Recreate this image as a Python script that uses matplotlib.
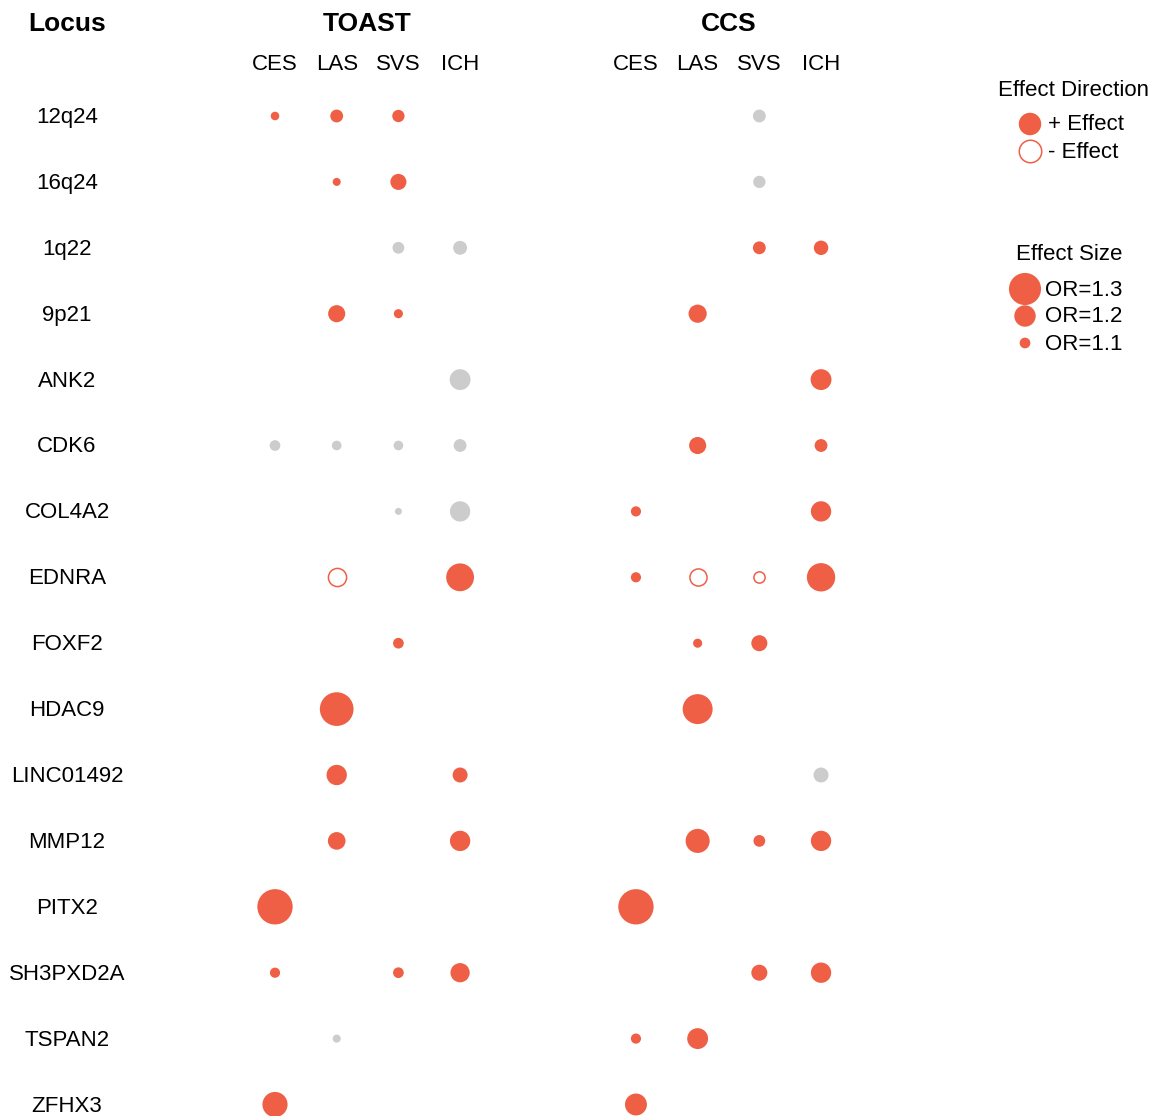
import numpy as np
import matplotlib.pyplot as plt

# --- DATA ---
loci = ["12q24", "16q24", "1q22", "9p21", "ANK2", "CDK6", "COL4A2", "EDNRA",
        "FOXF2", "HDAC9", "LINC01492", "MMP12", "PITX2", "SH3PXD2A", "TSPAN2", "ZFHX3"]
groups = ["TOAST", "CCS"]
subtypes = ["CES", "LAS", "SVS", "ICH"]

# effect size (OR magnitude) per locus: TOAST CES, LAS, SVS, ICH, CCS CES, LAS, SVS, ICH (0 = no dot)
effect_or = [
    [1.08, 1.12, 1.115, 0,     0,     0,     1.12,  0],
    [0,    1.075, 1.15, 0,     0,     0,     1.115, 0],
    [0,    0,    1.11,  1.13,  0,     0,     1.12,  1.135],
    [0,    1.16, 1.085, 0,     0,     1.17,  0,     0],
    [0,    0,    0,     1.195, 0,     0,     0,     1.195],
    [1.10, 1.09, 1.09,  1.12,  0,     1.16,  0,     1.12],
    [0,    0,    1.065, 1.19,  1.095, 0,     0,     1.19],
    [0,    1.17, 0,     1.26,  1.095, 1.16,  1.105, 1.265],
    [0,    0,    1.10,  0,     0,     1.085, 1.15,  0],
    [0,    1.315, 0,    0,     0,     1.28,  0,     0],
    [0,    1.19, 0,     1.14,  0,     0,     0,     1.14],
    [0,    1.165, 0,    1.19,  0,     1.225, 1.11,  1.19],
    [1.33, 0,    0,     0,     1.33,  0,     0,     0],
    [1.095, 0,   1.10,  1.18,  0,     0,     1.15,  1.19],
    [0,    1.075, 0,    0,     1.095, 1.195, 0,     0],
    [1.235, 0,   0,     0,     1.205, 0,     0,     0],
]
# p = positive effect, n = negative effect, g = not significant, . = none
status = [
    "ppp...g.",
    ".pp...g.",
    "..gg..pp",
    ".pp..p..",
    "...g...p",
    "gggg.p.p",
    "..ggp..p",
    ".n.ppnnp",
    "..p..pp.",
    ".p...p..",
    ".p.p...g",
    ".p.p.ppp",
    "p...p...",
    "p.pp..pp",
    ".g..pp..",
    "p...p...",
]
legend_or = [1.3, 1.2, 1.1]

RED = "#EE5F45"
GRAY = "#CCCCCC"
FONT = "Liberation Sans"
FS = 16
FS_HEAD = 19

# --- LAYOUT (pixel space) ---
W, H = 1157, 1116
x0, dx, group_gap = 275, 61.7, 5.85
y0, dy = 116, 65.9
ty = 1.5  # small text nudge
scale = 107  # px of diameter per unit of (OR - 1)


def size_pts(orv):
    d_px = scale * (orv - 1.0)
    return (d_px * 0.72) ** 2


fig = plt.figure(figsize=(W / 100, H / 100), dpi=100)
ax = fig.add_axes([0, 0, 1, 1])
ax.set_xlim(0, W)
ax.set_ylim(H, 0)
ax.axis("off")

col_x = [x0 + dx * (j + group_gap * g) for g in range(2) for j in range(4)]

for i, locus in enumerate(loci):
    y = y0 + dy * i
    ax.text(67, y + ty, locus, ha="center", va="center", fontsize=FS, family=FONT)
    for k in range(8):
        orv = effect_or[i][k]
        st = status[i][k]
        if orv == 0 or st == ".":
            continue
        if st == "p":
            ax.scatter(col_x[k], y, s=size_pts(orv), color=RED, edgecolors="none", zorder=3)
        elif st == "g":
            ax.scatter(col_x[k], y, s=size_pts(orv), color=GRAY, edgecolors="none", zorder=3)
        else:
            ax.scatter(col_x[k], y, s=size_pts(orv), facecolors="white", edgecolors=RED,
                       linewidths=1.1, zorder=3)

# headers
ax.text(67, 24, "Locus", ha="center", va="center", fontsize=FS_HEAD, weight="bold", family=FONT)
for g, name in enumerate(groups):
    cx = (col_x[4 * g] + col_x[4 * g + 3]) / 2
    ax.text(cx, 24, name, ha="center", va="center", fontsize=FS_HEAD, weight="bold", family=FONT)
    for j, sub in enumerate(subtypes):
        ax.text(col_x[4 * g + j], 65, sub, ha="center", va="center", fontsize=FS, family=FONT)

# legend: direction
ax.text(1073, 90, "Effect Direction", ha="center", va="center", fontsize=FS, family=FONT)
ax.scatter(1030, 124, s=size_pts(1.21), color=RED, edgecolors="none")
ax.text(1048, 125, "+ Effect", ha="left", va="center", fontsize=FS, family=FONT)
ax.scatter(1030, 151, s=size_pts(1.21), facecolors="white", edgecolors=RED, linewidths=1.1)
ax.text(1048, 152, "- Effect", ha="left", va="center", fontsize=FS, family=FONT)

# legend: size
ax.text(1069, 255, "Effect Size", ha="center", va="center", fontsize=FS, family=FONT)
for n, orv in enumerate(legend_or):
    ly = 289 + 27 * n
    ax.scatter(1025, ly, s=size_pts(orv), color=RED, edgecolors="none")
    ax.text(1045, ly + 1, f"OR={orv}", ha="left", va="center", fontsize=FS, family=FONT)

fig.savefig("out.png", dpi=100)
